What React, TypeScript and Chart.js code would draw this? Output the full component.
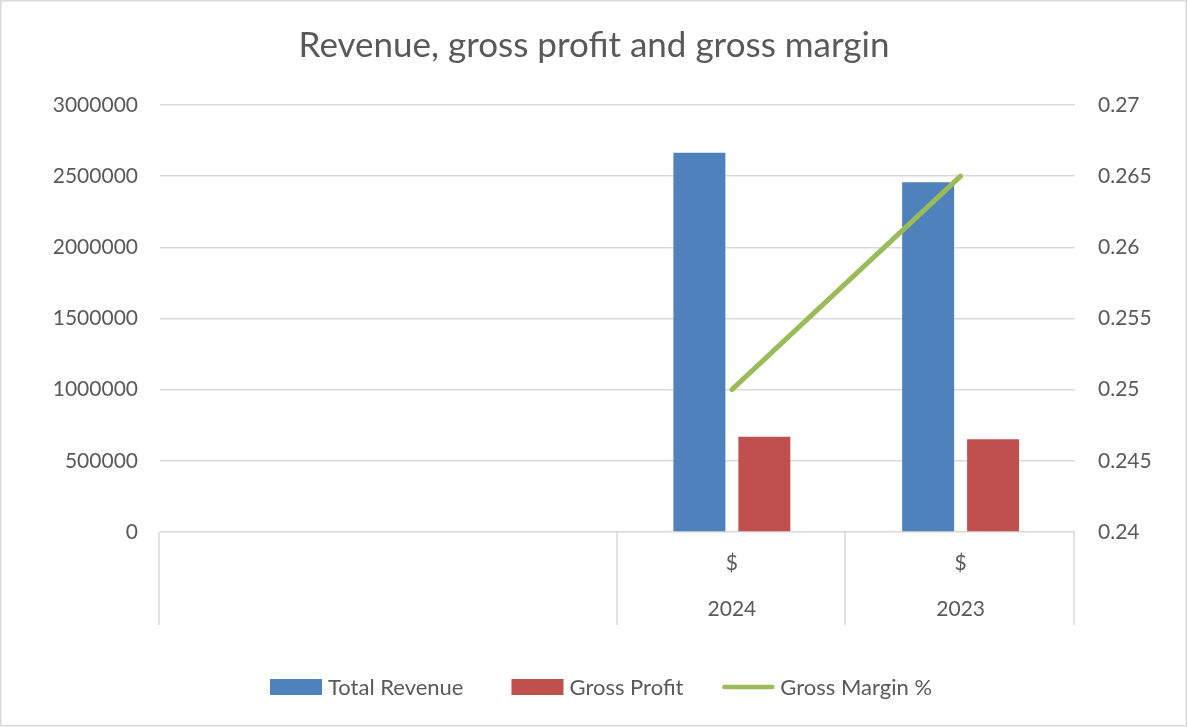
import React, { useEffect, useRef } from "react";
import { Chart, registerables } from "chart.js";

Chart.register(...registerables);

const categories = ["", "", "2024", "2023"];
const unitLabels = ["", "", "$", "$"];
const totalRevenue = [null, null, 2665000, 2457000];
const grossProfit = [null, null, 670000, 651000];
const grossMargin = [null, null, 0.25, 0.265];
const seriesNames = ["Total Revenue", "Gross Profit", "Gross Margin %"];
const seriesColors = ["#4F81BD", "#C0504D", "#9BBB59"];
const leftAxis = { min: 0, max: 3000000, step: 500000 };
const rightAxis = { min: 0.24, max: 0.27, step: 0.005 };
const titleText = "Revenue, gross profit and gross margin";

const FONT = 'Lato, "Open Sans", "Noto Sans", sans-serif';
const TEXT = "#595959";
const GRID = "#d9d9d9";

const customPlugin = {
  id: "excelLike",
  afterDraw(chart: any) {
    const ctx = chart.ctx;
    const x = chart.scales.x;
    const area = chart.chartArea;
    const n = categories.length;
    const w = (x.right - x.left) / n;
    ctx.save();
    // category dividers
    ctx.strokeStyle = GRID;
    ctx.lineWidth = 1.5;
    for (let i = 0; i <= n; i++) {
      if (i === 0 || i === n || categories[i] !== categories[i - 1]) {
        const bx = Math.round(x.left + i * w) - 1;
        ctx.beginPath();
        ctx.moveTo(bx, area.bottom);
        ctx.lineTo(bx, area.bottom + 93);
        ctx.stroke();
      }
    }
    // category labels
    ctx.fillStyle = TEXT;
    ctx.font = `21px ${FONT}`;
    ctx.textAlign = "center";
    ctx.textBaseline = "middle";
    for (let i = 0; i < n; i++) {
      const cx = x.getPixelForValue(i);
      if (unitLabels[i]) ctx.fillText(unitLabels[i], cx, area.bottom + 31);
      if (categories[i]) ctx.fillText(categories[i], cx, area.bottom + 77);
    }
    // legend
    ctx.font = `22px ${FONT}`;
    const boxW = 52;
    const boxH = 16;
    const gapText = 6;
    const gaps = [48, 39];
    let lx = 270;
    const ly = 687;
    ctx.textAlign = "left";
    seriesNames.forEach((name, i) => {
      if (i < 2) {
        ctx.fillStyle = seriesColors[i];
        ctx.fillRect(lx, ly - boxH / 2, boxW, boxH);
      } else {
        ctx.strokeStyle = seriesColors[i];
        ctx.lineWidth = 4.5;
        ctx.lineCap = "round";
        ctx.beginPath();
        ctx.moveTo(lx + 2, ly);
        ctx.lineTo(lx + boxW - 2, ly);
        ctx.stroke();
      }
      ctx.fillStyle = TEXT;
      ctx.fillText(name, lx + boxW + gapText, ly + 1);
      lx += boxW + gapText + ctx.measureText(name).width + (gaps[i] || 0);
    });
    // outer border
    ctx.strokeStyle = GRID;
    ctx.lineWidth = 1.5;
    ctx.strokeRect(0.75, 0.75, chart.width - 2.5, chart.height - 2);
    ctx.restore();
  },
};

export default function App() {
  const ref = useRef<HTMLCanvasElement>(null);
  useEffect(() => {
    if (!ref.current) return;
    const chart = new Chart(ref.current, {
      type: "bar",
      data: {
        labels: categories,
        datasets: [
          {
            type: "bar",
            label: seriesNames[0],
            data: totalRevenue as any,
            backgroundColor: seriesColors[0],
            yAxisID: "y",
            order: 2,
            categoryPercentage: 0.568,
            barPercentage: 0.8,
          },
          {
            type: "bar",
            label: seriesNames[1],
            data: grossProfit as any,
            backgroundColor: seriesColors[1],
            yAxisID: "y",
            order: 2,
            categoryPercentage: 0.568,
            barPercentage: 0.8,
          },
          {
            type: "line",
            label: seriesNames[2],
            data: grossMargin as any,
            borderColor: seriesColors[2],
            backgroundColor: seriesColors[2],
            borderWidth: 5,
            borderCapStyle: "round",
            pointRadius: 0,
            yAxisID: "y1",
            order: 1,
          } as any,
        ],
      },
      options: {
        responsive: false,
        animation: false,
        devicePixelRatio: 1,
        layout: { padding: 0 },
        plugins: {
          legend: { display: false },
          tooltip: { enabled: false },
          title: {
            display: true,
            text: titleText,
            color: TEXT,
            font: { family: FONT, size: 35, weight: "normal" as any },
            padding: { top: 25, bottom: 38 },
          },
        },
        scales: {
          x: {
            type: "category",
            offset: true,
            grid: { display: false },
            border: { display: false },
            ticks: { display: false },
            afterFit: (s: any) => {
              s.height = 195;
            },
          },
          y: {
            position: "left",
            min: leftAxis.min,
            max: leftAxis.max,
            ticks: {
              stepSize: leftAxis.step,
              color: TEXT,
              font: { family: FONT, size: 21 },
              padding: 22,
              callback: (v: any) => String(v),
            },
            grid: { color: GRID, lineWidth: 1.5, drawTicks: false },
            border: { display: false },
            afterFit: (s: any) => {
              s.width = 160;
            },
          },
          y1: {
            position: "right",
            min: rightAxis.min,
            max: rightAxis.max,
            ticks: {
              stepSize: rightAxis.step,
              color: TEXT,
              font: { family: FONT, size: 21 },
              padding: 23,
              callback: (v: any) => String(parseFloat(Number(v).toFixed(3))),
            },
            grid: { display: false, drawTicks: false },
            border: { display: false },
            afterFit: (s: any) => {
              s.width = 113;
            },
          },
        },
      } as any,
      plugins: [customPlugin],
    });
    return () => chart.destroy();
  }, []);
  return (
    <div style={{ position: "fixed", left: 0, top: 0, width: 1188, height: 727, background: "#fff" }}>
      <canvas ref={ref} width={1188} height={727} />
    </div>
  );
}
